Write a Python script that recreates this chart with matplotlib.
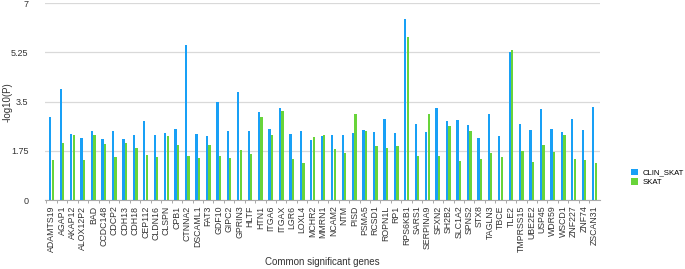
import numpy as np
import matplotlib.pyplot as plt

plt.rcParams['font.family'] = ['Liberation Sans', 'DejaVu Sans']

genes = ['ADAMTS19', 'AGAP1', 'AKAP12', 'ALOX12P2', 'BAD', 'CCDC148', 'CDCP2', 'CDH13',
         'CDH18', 'CEP112', 'CLDN16', 'CLSPN', 'CPB1', 'CTNNA2', 'DSCAML1', 'FAT3',
         'GDF10', 'GIPC2', 'GPRIN3', 'HLTF', 'HTN1', 'ITGA6', 'ITGAX', 'LGR6', 'LOXL4',
         'MCHR2', 'MMRN1', 'NCAM2', 'NTM', 'PISD', 'PSMA5', 'RCSD1', 'ROPN1L', 'RP1',
         'RPS6KB1', 'SARS1', 'SERPINA9', 'SFXN2', 'SH2B2', 'SLC1A2', 'SPNS2', 'STX8',
         'TAGLN3', 'TBCE', 'TLE2', 'TMPRSS15', 'UBE2E2', 'USP45', 'WDR59', 'WSCD1',
         'ZNF227', 'ZNF74', 'ZSCAN31']

clin_skat = [2.94, 3.95, 2.36, 2.20, 2.46, 2.17, 2.44, 2.17, 2.32, 2.82, 2.32, 2.39, 2.54,
             5.51, 2.36, 2.27, 3.50, 2.44, 3.84, 2.44, 3.13, 2.54, 3.27, 2.36, 2.46, 2.13,
             2.29, 2.30, 2.31, 2.39, 2.50, 2.42, 2.90, 2.38, 6.43, 2.70, 2.42, 3.27, 2.82,
             2.84, 2.68, 2.20, 3.07, 2.29, 5.27, 2.70, 2.48, 3.25, 2.54, 2.43, 2.90, 2.48,
             3.31]

skat = [1.43, 2.03, 2.32, 1.43, 2.32, 1.99, 1.52, 2.03, 1.85, 1.60, 1.52, 2.29, 1.94,
        1.58, 1.48, 1.94, 1.58, 1.48, 1.77, 1.62, 2.96, 2.32, 3.15, 1.45, 1.30, 2.25,
        2.32, 1.82, 1.66, 3.05, 2.46, 1.91, 1.86, 1.91, 5.79, 1.58, 3.05, 1.58, 2.62,
        1.40, 2.46, 1.45, 1.68, 1.52, 5.34, 1.74, 1.36, 1.94, 1.71, 2.33, 1.45, 1.43,
        1.32]

blue = '#18a0f6'
green = '#68d43a'

fig = plt.figure(figsize=(6.85, 2.69), dpi=100)
ax = fig.add_axes([45/685, 1-200/269, 555/685, (200-3.3)/269])

x = np.arange(len(genes))
w = 0.22
ax.bar(x - w/2 - 0.01, clin_skat, w, color=blue, label='CLIN_SKAT', zorder=3)
ax.bar(x + w/2 + 0.01, skat, w, color=green, label='SKAT', zorder=3)

ax.set_xlim(-0.63, len(genes) - 1 + 0.53)
ax.set_ylim(0, 7)
ax.set_yticks([0, 1.75, 3.5, 5.25, 7])
ax.set_yticklabels(['0', '1.75', '3.5', '5.25', '7'])
ax.yaxis.grid(True, color='#d9d9d9', linewidth=0.9, zorder=0)
ax.tick_params(axis='y', length=0, pad=12, labelsize=6.5, labelcolor='#333333')

ax.set_xticks(x)
ax.set_xticklabels(genes, rotation=90, fontsize=6.3, color='#333333')
ax.set_xticks(x - 0.5, minor=True)
ax.tick_params(axis='x', which='major', length=0, pad=4)
ax.tick_params(axis='x', which='minor', length=2, color='#999999', width=0.6)

for s in ['top', 'right', 'left']:
    ax.spines[s].set_visible(False)
ax.spines['bottom'].set_color('#aaaaaa')
ax.spines['bottom'].set_linewidth(0.8)

ax.set_ylabel('-log10(P)', fontsize=7, color='#333333')
ax.yaxis.set_label_coords(-32/555, 0.5)
fig.text(322/685, 1-262/269, 'Common significant genes', ha='center', va='center',
         fontsize=7, color='#333333')

ax.legend(loc='center left', bbox_to_anchor=(1.055, 0.115), frameon=False, fontsize=5.6,
          handlelength=0.95, handleheight=0.95, handletextpad=0.6, labelspacing=0.2,
          borderaxespad=0, borderpad=0)

fig.savefig('out.png', dpi=100)
